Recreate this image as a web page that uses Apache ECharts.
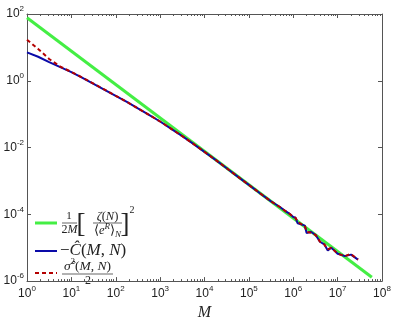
<!DOCTYPE html>
<html>
<head>
<meta charset="utf-8">
<script src="https://cdn.jsdelivr.net/npm/echarts@6/dist/echarts.min.js"></script>
<style>
html,body{margin:0;padding:0;background:#fff;}
#chart{width:395px;height:326px;}
</style>
</head>
<body>
<div id="chart"></div>
<script>
// ---- data ----
const mValues = [1, 1.78, 3.16, 5.62, 10, 17.8, 31.6, 56.2, 100, 178, 316, 562, 1000, 1780, 3160, 5620,
  1e4, 1.78e4, 3.16e4, 5.62e4, 1e5, 1.78e5, 3.16e5, 4e5, 5e5, 6.3e5, 8e5, 1e6, 1.12e6, 1.26e6, 1.58e6,
  1.82e6, 2e6, 2.5e6, 3.2e6, 4e6, 5e6, 6e6, 7.2e6, 8.7e6, 1e7, 1.26e7, 1.45e7, 1.58e7, 2e7, 2.88e7];
const blueValues = [7.08, 5.25, 3.63, 2.57, 1.82, 1.23, 0.813, 0.537, 0.355, 0.234, 0.148, 0.0955, 0.0603,
  0.0363, 0.0219, 0.0129, 0.00741, 0.00427, 0.0024, 0.00135, 7.6e-4, 4.27e-4, 2.45e-4, 2.0e-4, 1.66e-4,
  1.32e-4, 1.07e-4, 8.3e-5, 7.9e-5, 5.4e-5, 4.9e-5, 4.6e-5, 2.75e-5, 3.0e-5, 2.4e-5, 1.51e-5, 1.26e-5,
  8.3e-6, 1.0e-5, 7.9e-6, 6.6e-6, 6.0e-6, 5.6e-6, 5.1e-6, 6.2e-6, 4.4e-6];
const redValues = [17.0, 9.0, 4.5, 2.65, 1.84, 1.24, 0.82, 0.54, 0.355, 0.234, 0.148, 0.0955, 0.0603,
  0.0363, 0.0219, 0.0129, 0.00741, 0.00427, 0.0024, 0.00135, 7.6e-4, 4.27e-4, 2.45e-4, 2.0e-4, 1.66e-4,
  1.32e-4, 1.07e-4, 8.3e-5, 7.9e-5, 6.0e-5, 4.9e-5, 4.6e-5, 3.0e-5, 2.8e-5, 2.4e-5, 1.51e-5, 1.26e-5,
  8.9e-6, 1.0e-5, 7.9e-6, 6.6e-6, 6.0e-6, 5.6e-6, 5.1e-6, 6.5e-6, 4.4e-6];
const greenM = [1, 5.9e7];
const greenValues = [77, 1.3e-6];

const GREEN = '#44ee44', BLUE = '#0a0aa8', RED = '#b40000';
const AXIS = '#555555', TXT = '#222222';

const pairs = (xs, ys) => xs.map((x, i) => [x, ys[i]]);
const minorTicks = [];
for (let n = 0; n < 8; n++) for (let k = 2; k <= 9; k++) minorTicks.push(n + Math.log10(k));

const labelRich = {
  b: { fontFamily: 'Liberation Sans', fontSize: 12, color: TXT },
  s: { fontFamily: 'Liberation Sans', fontSize: 8, color: TXT, padding: [0, 0, 10, 0] }
};
const expLabel = v => '{b|10}{s|' + Math.round(Math.log10(v)) + '}';

const majorX = (pos, show) => ({
  type: 'log', logBase: 10, min: 1, max: 1e8, interval: 1, splitNumber: 8, position: pos, offset: 0,
  axisLine: { show: true, onZero: false, lineStyle: { color: AXIS, width: 1 } },
  axisTick: { show: true, inside: true, length: 4, lineStyle: { color: AXIS } },
  axisLabel: { show: show, interval: 0, margin: 4, formatter: expLabel, rich: labelRich,
    showMinLabel: true, showMaxLabel: true },
  splitLine: { show: false }
});
const minorX = (pos) => ({
  type: 'value', min: 0, max: 8, position: pos, offset: 0,
  axisLine: { show: false, onZero: false },
  axisTick: { show: true, inside: true, length: 2, customValues: minorTicks, lineStyle: { color: AXIS } },
  axisLabel: { show: false },
  splitLine: { show: false }
});
const majorY = (pos, show) => ({
  type: 'log', logBase: 10, min: 1e-6, max: 1e2, interval: 2, splitNumber: 4, position: pos, offset: 0,
  axisLine: { show: true, onZero: false, lineStyle: { color: AXIS, width: 1 } },
  axisTick: { show: true, inside: true, length: 4, lineStyle: { color: AXIS } },
  axisLabel: { show: show, margin: 3, formatter: expLabel, rich: labelRich,
    showMinLabel: true, showMaxLabel: true },
  splitLine: { show: false }
});

const xAxisMain = majorX('bottom', true);
xAxisMain.name = 'M';
xAxisMain.nameLocation = 'middle';
xAxisMain.nameGap = 14;
xAxisMain.nameTextStyle = { fontFamily: 'Liberation Serif', fontStyle: 'italic', fontSize: 16, color: TXT,
  verticalAlign: 'top' };

const serif = 'Liberation Serif';
const R = (sz) => ({
  a: { fontFamily: serif, fontSize: sz, fill: TXT },
  i: { fontFamily: serif, fontStyle: 'italic', fontSize: sz, fill: TXT },
  sp: { fontFamily: serif, fontStyle: 'italic', fontSize: Math.round(sz * 0.7), fill: TXT, padding: [0, 0, Math.round(sz * 0.7), 0] },
  spu: { fontFamily: serif, fontSize: Math.round(sz * 0.7), fill: TXT, padding: [0, 0, Math.round(sz * 0.7), 0] },
  sb: { fontFamily: serif, fontStyle: 'italic', fontSize: Math.round(sz * 0.7), fill: TXT, padding: [Math.round(sz * 0.6), 0, 0, 0] }
});
const legendGraphics = [
  // entry 1
  { type: 'line', shape: { x1: 35, y1: 223, x2: 57, y2: 223 }, style: { stroke: GREEN, lineWidth: 3 } },
  { type: 'text', x: 69, y: 216.5, style: { text: '1', font: '11px ' + serif, fill: TXT, align: 'center', verticalAlign: 'middle' } },
  { type: 'line', shape: { x1: 62, y1: 223, x2: 77, y2: 223 }, style: { stroke: TXT, lineWidth: 0.7 } },
  { type: 'text', x: 69.5, y: 229.5, style: { text: '{a|2}{i|M}', align: 'center', verticalAlign: 'middle', rich: R(12) } },
  { type: 'text', x: 81, y: 224.5, style: { text: '[', font: '27px ' + serif, fill: TXT, align: 'center', verticalAlign: 'middle' } },
  { type: 'text', x: 107.5, y: 216.5, style: { text: '{i|ζ}{a|(}{i|N}{a|)}', align: 'center', verticalAlign: 'middle', rich: R(12.5) } },
  { type: 'line', shape: { x1: 93, y1: 223, x2: 122, y2: 223 }, style: { stroke: TXT, lineWidth: 0.7 } },
  { type: 'text', x: 107.5, y: 231, style: { text: '{a|⟨}{i|e}{sp|R}{a|⟩}{sb|N}', align: 'center', verticalAlign: 'middle', rich: R(12.5) } },
  { type: 'text', x: 125, y: 224.5, style: { text: ']', font: '27px ' + serif, fill: TXT, align: 'center', verticalAlign: 'middle' } },
  { type: 'text', x: 132, y: 210, style: { text: '2', font: '10px ' + serif, fill: TXT, align: 'center', verticalAlign: 'middle' } },
  // entry 2
  { type: 'line', shape: { x1: 35, y1: 251, x2: 57, y2: 251 }, style: { stroke: BLUE, lineWidth: 2 } },
  { type: 'text', x: 60, y: 251, style: { text: '{a|−}{i|Ĉ}{a|(}{i|M}{a|, }{i|N}{a|)}', align: 'left', verticalAlign: 'middle', rich: R(17) } },
  // entry 3
  { type: 'line', shape: { x1: 35, y1: 273, x2: 57, y2: 273 }, style: { stroke: RED, lineWidth: 2, lineDash: [4, 3] } },
  { type: 'text', x: 87.5, y: 266.5, style: { text: '{i|σ̂}{spu|2}{a|(}{i|M}{a|, }{i|N}{a|)}', align: 'center', verticalAlign: 'middle', rich: R(13.5) } },
  { type: 'line', shape: { x1: 62, y1: 274, x2: 113, y2: 274 }, style: { stroke: TXT, lineWidth: 0.7 } },
  { type: 'text', x: 88, y: 281, style: { text: '2', font: '12px ' + serif, fill: TXT, align: 'center', verticalAlign: 'middle' } }
];

const chart = echarts.init(document.getElementById('chart'), null, { renderer: 'canvas' });
chart.setOption({
  animation: false,
  backgroundColor: '#ffffff',
  grid: { left: 27, right: 13, top: 14, bottom: 35, containLabel: false },
  xAxis: [xAxisMain, majorX('top', false), minorX('bottom'), minorX('top')],
  yAxis: [majorY('left', true), majorY('right', false)],
  series: [
    { type: 'line', xAxisIndex: 0, yAxisIndex: 0, data: pairs(greenM, greenValues), showSymbol: false,
      lineStyle: { color: GREEN, width: 3 }, z: 2 },
    { type: 'line', xAxisIndex: 0, yAxisIndex: 0, data: pairs(mValues, blueValues), showSymbol: false,
      lineStyle: { color: BLUE, width: 2 }, z: 3 },
    { type: 'line', xAxisIndex: 0, yAxisIndex: 0, data: pairs(mValues, redValues), showSymbol: false,
      lineStyle: { color: RED, width: 2, type: [4, 3] }, z: 4 }
  ],
  graphic: legendGraphics
});
</script>
</body>
</html>
